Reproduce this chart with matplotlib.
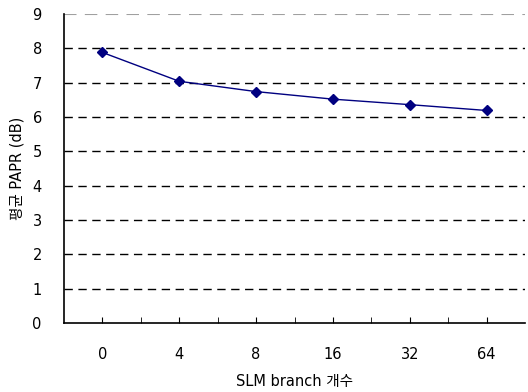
import matplotlib
matplotlib.use('Agg')
import matplotlib.pyplot as plt
import numpy as np

plt.rcParams['font.family'] = ['DejaVu Sans', 'Noto Sans CJK KR']

# data
branches = ['0', '4', '8', '16', '32', '64']
papr = [7.88, 7.04, 6.74, 6.52, 6.36, 6.19]

fig = plt.figure(figsize=(5.28, 3.92), dpi=100)
ax = fig.add_axes([64/528, 69/392, 461/528, 309/392])

x = np.arange(len(branches))
ax.plot(x, papr, color='#000080', lw=1, marker='D', markersize=5,
        markerfacecolor='#000080', markeredgecolor='#000080', zorder=3)

ax.set_xlim(-0.5, len(branches) - 0.5)
ax.set_ylim(0, 9)
ax.set_yticks(range(0, 10))
ax.set_xticks(x)
ax.set_xticklabels(branches)
ax.set_xticks(np.arange(0.5, len(branches) - 0.5, 1), minor=True)

for v in range(1, 9):
    ax.axhline(v, color='black', lw=1, ls=(0, (6, 4)), zorder=1)
ax.axhline(9, color='#a0a0a0', lw=1.5, ls=(0, (6, 4)), zorder=1)

for s in ['top', 'right']:
    ax.spines[s].set_visible(False)
ax.spines['left'].set_linewidth(1.2)
ax.spines['bottom'].set_linewidth(1.2)

ax.tick_params(axis='x', which='both', direction='in', length=4, pad=17, labelsize=10.5)
ax.tick_params(axis='y', direction='in', length=0, pad=16, labelsize=10.5)

ax.set_xlabel('SLM branch 개수', fontsize=10.5, labelpad=9)
ax.set_ylabel('평균 PAPR (dB)', fontsize=10.5, labelpad=6)

fig.savefig('out.png', dpi=100)
